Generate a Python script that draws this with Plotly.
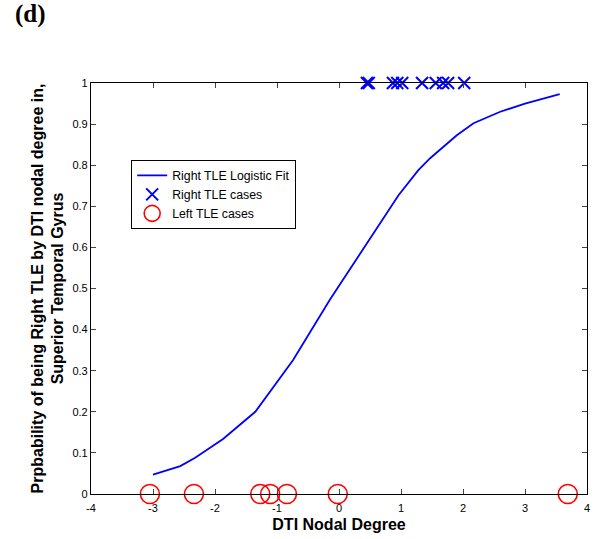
import plotly.graph_objects as go

# Logistic fit curve
fit_x = [-3.0, -2.56, -2.32, -1.87, -1.35, -0.74, -0.15, 0.45, 0.96, 1.28, 1.47, 1.90, 2.17, 2.6, 3.0, 3.56]
fit_y = [0.047, 0.068, 0.088, 0.134, 0.20, 0.326, 0.472, 0.61, 0.727, 0.788, 0.817, 0.873, 0.902, 0.93, 0.95, 0.973]

# Right TLE cases (y = 1)
right_x = [0.45, 0.48, 0.87, 0.94, 1.02, 1.34, 1.56, 1.68, 1.76, 2.02]
right_y = [1] * len(right_x)

# Left TLE cases (y = 0)
left_x = [-3.05, -2.34, -1.27, -1.11, -0.84, -0.02, 3.69]
left_y = [0] * len(left_x)

x_ticks = [-4, -3, -2, -1, 0, 1, 2, 3, 4]
x_tick_text = ["-4", "-3", "-2", "-1", "0", "1", "2", "3", "4"]
y_ticks = [0, 0.1, 0.2, 0.3, 0.4, 0.5, 0.6, 0.7, 0.8, 0.9, 1]
y_tick_text = ["0", "0.1", "0.2", "0.3", "0.4", "0.5", "0.6", "0.7", "0.8", "0.9", "1"]

fig = go.Figure()
fig.add_trace(go.Scatter(x=fit_x, y=fit_y, mode="lines", name="Right TLE Logistic Fit",
                         line=dict(color="#0000ff", width=1.8)))
fig.add_trace(go.Scatter(x=right_x, y=right_y, mode="markers", name="Right TLE cases",
                         marker=dict(symbol="x-thin-open", size=12, color="#0000ff",
                                     line=dict(color="#0000ff", width=2)),
                         cliponaxis=False))
fig.add_trace(go.Scatter(x=left_x, y=left_y, mode="markers", name="Left TLE cases",
                         marker=dict(symbol="circle-open", size=19, color="#ff0000",
                                     line=dict(color="#ff0000", width=1.6)),
                         cliponaxis=False))

axis_common = dict(showgrid=False, zeroline=False, showline=True, linecolor="black", linewidth=1.2,
                   mirror="ticks", ticks="inside", ticklen=5, tickcolor="#444",
                   tickfont=dict(family="Arial, Liberation Sans", size=11, color="black"))

fig.update_xaxes(range=[-4, 4], tickvals=x_ticks, ticktext=x_tick_text, ticklabelstandoff=4, **axis_common,
                 title=dict(text="<b>DTI Nodal Degree</b>", font=dict(family="Arial, Liberation Sans", size=16, color="black"),
                            standoff=5))
fig.update_yaxes(range=[0, 1], tickvals=y_ticks, ticktext=y_tick_text, **axis_common,
                 title=dict(text="<b>Prpbability of being Right TLE by DTI nodal degree in,<br>Superior Temporal Gyrus</b>",
                            font=dict(family="Arial, Liberation Sans", size=16, color="black"), standoff=4))

fig.update_layout(
    width=596, height=539,
    margin=dict(l=91, r=9, t=83, b=45, autoexpand=False),
    paper_bgcolor="white", plot_bgcolor="white",
    showlegend=True,
    legend=dict(x=0.081, y=0.813, xanchor="left", yanchor="top",
                bordercolor="black", borderwidth=1, bgcolor="white",
                font=dict(family="Arial, Liberation Sans", size=12.3, color="black"),
                tracegroupgap=0, itemsizing="trace"),
)
fig.add_annotation(text="<b>(d)</b>", xref="paper", yref="paper", x=-0.157, y=1.168,
                   xanchor="left", yanchor="middle", showarrow=False,
                   font=dict(family="Times New Roman, Liberation Serif", size=25, color="black"))

fig.write_html("out.html", config={"displayModeBar": False},
               post_script="document.body.style.margin='0';")
